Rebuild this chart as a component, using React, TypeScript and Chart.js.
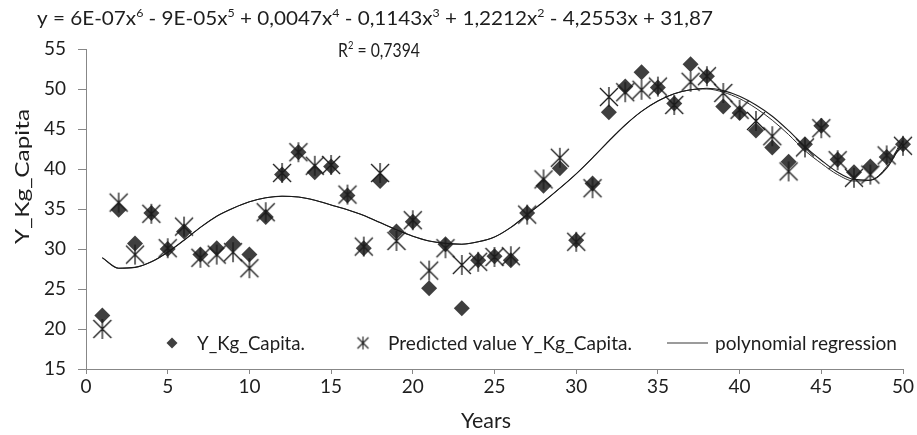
import React, { useEffect, useRef } from "react";
import { Chart, registerables } from "chart.js";

Chart.register(...registerables);

// Years on the x axis
const years = [
  1, 2, 3, 4, 5, 6, 7, 8, 9, 10, 11, 12, 13, 14, 15, 16, 17, 18, 19, 20, 21, 22, 23, 24, 25,
  26, 27, 28, 29, 30, 31, 32, 33, 34, 35, 36, 37, 38, 39, 40, 41, 42, 43, 44, 45, 46, 47, 48, 49, 50,
];

// Observed consumption (kg per capita)
const kgPerCapita = [
  21.7, 34.9, 30.7, 34.5, 30.0, 32.2, 29.3, 30.1, 30.7, 29.3, 34.0, 39.3, 42.1, 39.6, 40.3, 36.7,
  30.1, 38.5, 32.2, 33.4, 25.1, 30.6, 22.6, 28.6, 29.1, 28.6, 34.5, 37.9, 40.1, 31.1, 38.2, 47.1,
  50.3, 52.1, 50.2, 48.2, 53.1, 51.6, 47.8, 47.0, 44.8, 42.7, 40.9, 43.1, 45.4, 41.2, 39.6, 40.3,
  41.5, 43.1,
];

// Model prediction (kg per capita)
const predictedKg = [
  20.0, 35.8, 29.3, 34.4, 30.1, 32.8, 28.9, 29.3, 29.6, 27.6, 34.6, 39.5, 42.1, 40.4, 40.5, 36.8,
  30.3, 39.5, 31.0, 33.6, 27.3, 30.1, 28.0, 28.4, 29.0, 29.1, 34.3, 38.7, 41.4, 30.9, 37.6, 49.0,
  49.6, 49.9, 50.3, 48.0, 50.9, 51.6, 49.5, 47.4, 46.0, 44.1, 39.7, 42.7, 45.1, 41.1, 38.9, 39.3,
  41.7, 42.9,
];

// 6th order polynomial trend of the observed series
const polyTrend = [
  28.9, 27.6, 27.7, 28.4, 29.6, 31.1, 32.7, 34.1, 35.1, 35.9, 36.4, 36.6, 36.5, 36.1, 35.5, 34.9,
  34.2, 33.3, 32.4, 31.6, 31.0, 30.7, 30.6, 30.9, 31.5, 32.7, 34.3, 35.9, 37.6, 39.4, 41.4, 43.5,
  45.5, 47.2, 48.5, 49.4, 49.9, 50.1, 49.8, 49.1, 48.0, 46.6, 44.8, 42.8, 41.1, 39.6, 38.7, 38.6,
  40.1, 43.5,
];

// 6th order polynomial trend of the predicted series
const predictedTrend = [
  28.9, 27.6, 27.7, 28.4, 29.6, 31.1, 32.7, 34.1, 35.1, 35.9, 36.4, 36.6, 36.5, 36.1, 35.5, 34.9,
  34.2, 33.3, 32.4, 31.6, 31.0, 30.7, 30.6, 30.9, 31.5, 32.7, 34.3, 35.9, 37.6, 39.4, 41.4, 43.5,
  45.5, 47.2, 48.5, 49.4, 49.9, 50.0, 49.6, 48.8, 47.6, 46.1, 44.3, 42.3, 40.7, 39.3, 38.5, 38.6,
  40.3, 43.8,
];

const xTickValues = [0, 5, 10, 15, 20, 25, 30, 35, 40, 45, 50];
const yTickValues = [15, 20, 25, 30, 35, 40, 45, 50, 55];

type Part = [string, boolean];
const equationParts: Part[] = [
  ["y = 6E-07x", false],
  ["6", true],
  [" - 9E-05x", false],
  ["5", true],
  [" + 0,0047x", false],
  ["4", true],
  [" - 0,1143x", false],
  ["3", true],
  [" + 1,2212x", false],
  ["2", true],
  [" - 4,2553x + 31,87", false],
];
const rSquaredParts: Part[] = [
  ["R", false],
  ["2", true],
  [" = 0,7394", false],
];

const legendLabels = ["Y_Kg_Capita.", "Predicted value Y_Kg_Capita.", "polynomial regression"];
const xAxisTitle = "Years";
const yAxisTitle = "Y_Kg_Capita";

const FONT = "Lato, 'Noto Sans', sans-serif";
const INK = "#1e1e1e";
const AXIS = "#878787";
const MARK = "#3f3f3f";

// six-armed asterisk: a vertical bar plus an X
function makeStar(half: number, lw: number): HTMLCanvasElement {
  const size = Math.ceil(half * 2 + 4);
  const c = document.createElement("canvas");
  c.width = size;
  c.height = size;
  const g = c.getContext("2d")!;
  const m = size / 2;
  g.strokeStyle = "#1a1a1a";
  g.lineWidth = lw;
  g.beginPath();
  g.moveTo(m, m - half - 1);
  g.lineTo(m, m + half + 1);
  g.moveTo(m - half, m - half);
  g.lineTo(m + half, m + half);
  g.moveTo(m + half, m - half);
  g.lineTo(m - half, m + half);
  g.stroke();
  return c;
}

function drawRich(
  ctx: CanvasRenderingContext2D,
  parts: Part[],
  x: number,
  baseline: number,
  px: number,
  width: number
) {
  const supPx = Math.round(px * 0.62);
  let natural = 0;
  const widths = parts.map(([t, sup]) => {
    ctx.font = `${sup ? supPx : px}px ${FONT}`;
    const w = ctx.measureText(t).width;
    natural += w;
    return w;
  });
  ctx.save();
  ctx.translate(x, baseline);
  ctx.scale(width / natural, 1);
  let cx = 0;
  parts.forEach(([t, sup], i) => {
    ctx.font = `${sup ? supPx : px}px ${FONT}`;
    ctx.fillText(t, cx, sup ? -px * 0.38 : 0);
    cx += widths[i];
  });
  ctx.restore();
}

function fitText(
  ctx: CanvasRenderingContext2D,
  text: string,
  x: number,
  baseline: number,
  px: number,
  width: number,
  center = false
) {
  ctx.font = `${px}px ${FONT}`;
  const natural = ctx.measureText(text).width;
  ctx.save();
  ctx.translate(x, baseline);
  ctx.scale(width / natural, 1);
  ctx.fillText(text, center ? -natural / 2 : 0, 0);
  ctx.restore();
}

export default function App() {
  const ref = useRef<HTMLCanvasElement | null>(null);

  useEffect(() => {
    if (!ref.current) return;
    const star = makeStar(9, 1.3);
    const legendStar = makeStar(5.5, 1.1);

    const annotate = {
      id: "annotate",
      afterDraw(chart: Chart) {
        const ctx = chart.ctx;
        ctx.save();
        ctx.fillStyle = INK;
        ctx.textBaseline = "alphabetic";

        // trendline equation and R²
        drawRich(ctx, equationParts, 37, 25, 20, 676);
        drawRich(ctx, rSquaredParts, 338, 57, 20, 82);

        // legend
        const ly = 343;
        ctx.fillStyle = MARK;
        ctx.beginPath();
        ctx.moveTo(172 - 5.5, ly);
        ctx.lineTo(172, ly - 5.5);
        ctx.lineTo(172 + 5.5, ly);
        ctx.lineTo(172, ly + 5.5);
        ctx.closePath();
        ctx.fill();
        ctx.drawImage(legendStar, 363 - legendStar.width / 2, ly - legendStar.height / 2);
        ctx.strokeStyle = "#7a7a7a";
        ctx.lineWidth = 1.5;
        ctx.beginPath();
        ctx.moveTo(667, ly);
        ctx.lineTo(708, ly);
        ctx.stroke();
        ctx.fillStyle = INK;
        fitText(ctx, legendLabels[0], 197, 350, 20, 108);
        fitText(ctx, legendLabels[1], 388, 350, 20, 244);
        fitText(ctx, legendLabels[2], 715, 350, 20, 182);

        // axis titles
        fitText(ctx, xAxisTitle, 486, 428, 21, 50, true);
        ctx.save();
        ctx.translate(29, 176.5);
        ctx.rotate(-Math.PI / 2);
        fitText(ctx, yAxisTitle, 0, 0, 19, 135, true);
        ctx.restore();

        ctx.restore();
      },
    };

    const points = (vals: number[]) => years.map((x, i) => ({ x, y: vals[i] }));

    const chart = new Chart(ref.current, {
      type: "scatter",
      data: {
        datasets: [
          {
            label: legendLabels[0],
            data: points(kgPerCapita),
            pointStyle: "rectRot",
            pointRadius: 8,
            pointBorderWidth: 0,
            backgroundColor: MARK,
            borderColor: MARK,
            order: 3,
          },
          {
            label: legendLabels[1],
            data: points(predictedKg),
            pointStyle: star,
            pointRadius: 9,
            order: 2,
          },
          {
            label: legendLabels[2],
            data: points(polyTrend),
            showLine: true,
            pointRadius: 0,
            borderColor: "#1a1a1a",
            borderWidth: 1.1,
            cubicInterpolationMode: "monotone",
            fill: false,
            order: 1,
          },
          {
            label: "trend of predicted values",
            data: points(predictedTrend),
            showLine: true,
            pointRadius: 0,
            borderColor: "#2a2a2a",
            borderWidth: 1,
            cubicInterpolationMode: "monotone",
            fill: false,
            order: 1,
          },
        ],
      },
      options: {
        animation: false,
        responsive: false,
        events: [],
        clip: false,
        layout: { padding: { top: 49, right: 14, bottom: 0, left: 0 } },
        plugins: {
          legend: { display: false },
          title: { display: false },
          tooltip: { enabled: false },
        },
        scales: {
          x: {
            type: "linear",
            min: 0,
            max: 50,
            afterBuildTicks: (s: any) => {
              s.ticks = xTickValues.map((v) => ({ value: v }));
            },
            afterFit: (s: any) => {
              s.height = 66;
            },
            grid: { drawOnChartArea: false, drawTicks: true, tickLength: 5, color: AXIS, lineWidth: 1 },
            border: { display: true, color: AXIS, width: 1 },
            ticks: {
              font: { family: FONT, size: 19 },
              color: INK,
              padding: 1,
              maxRotation: 0,
              autoSkip: false,
            },
          },
          y: {
            type: "linear",
            min: 15,
            max: 55,
            afterBuildTicks: (s: any) => {
              s.ticks = yTickValues.map((v) => ({ value: v }));
            },
            afterFit: (s: any) => {
              s.width = 86;
            },
            grid: { drawOnChartArea: false, drawTicks: true, tickLength: 8, color: AXIS, lineWidth: 1 },
            border: { display: true, color: AXIS, width: 1 },
            ticks: {
              font: { family: FONT, size: 19 },
              color: INK,
              padding: 12,
              autoSkip: false,
            },
          },
        },
      },
      plugins: [annotate],
    } as any);

    return () => chart.destroy();
  }, []);

  return (
    <div style={{ position: "fixed", left: 0, top: 0, width: 917, height: 435, background: "#fff" }}>
      <canvas ref={ref} width={917} height={435} style={{ display: "block" }} />
    </div>
  );
}
